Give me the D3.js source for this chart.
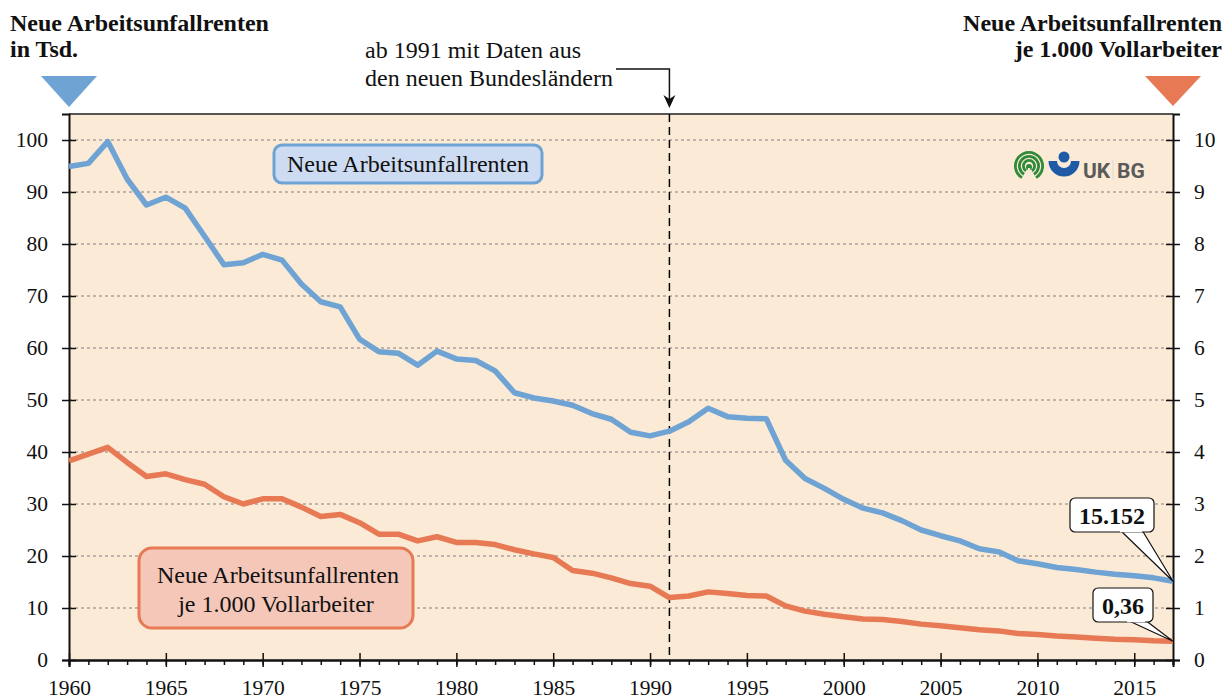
<!DOCTYPE html>
<html>
<head>
<meta charset="utf-8">
<script src="https://cdn.jsdelivr.net/npm/d3@7"></script>
<style>
  body { margin: 0; background: #fff; }
  svg { display: block; font-family: "Liberation Serif", "Times New Roman", serif; }
</style>
</head>
<body>
<svg id="chart"></svg>
<script>
// years 1960..2017
const years = d3.range(1960, 2018);

// neue Arbeitsunfallrenten in Tsd.
const renten = [
  94.9, 95.5, 99.7, 92.5, 87.5, 89.0, 86.9, 81.5, 76.0, 76.4,
  78.0, 76.9, 72.3, 68.9, 67.9, 61.7, 59.3, 59.0, 56.7, 59.4,
  57.9, 57.6, 55.6, 51.4, 50.4, 49.8, 49.0, 47.4, 46.3, 43.8,
  43.1, 44.0, 45.8, 48.4, 46.8, 46.5, 46.4, 38.4, 34.9, 33.0,
  30.9, 29.2, 28.3, 26.8, 25.0, 23.9, 22.9, 21.4, 20.8, 19.1,
  18.5, 17.8, 17.4, 16.9, 16.5, 16.2, 15.8, 15.152
];

// neue Arbeitsunfallrenten je 1.000 Vollarbeiter
const quote = [
  3.83, 3.96, 4.09, 3.80, 3.53, 3.58, 3.47, 3.38, 3.14, 3.00,
  3.10, 3.10, 2.94, 2.76, 2.80, 2.64, 2.42, 2.42, 2.29, 2.37,
  2.26, 2.26, 2.22, 2.12, 2.04, 1.97, 1.72, 1.67, 1.58, 1.47,
  1.42, 1.20, 1.23, 1.31, 1.28, 1.24, 1.23, 1.04, 0.94, 0.88,
  0.83, 0.79, 0.78, 0.74, 0.69, 0.66, 0.62, 0.58, 0.56, 0.51,
  0.49, 0.46, 0.44, 0.42, 0.40, 0.39, 0.37, 0.36
];

const leftTicks = [0, 10, 20, 30, 40, 50, 60, 70, 80, 90, 100];
const rightTicks = [0, 1, 2, 3, 4, 5, 6, 7, 8, 9, 10];
const yearTicks = [1960, 1965, 1970, 1975, 1980, 1985, 1990, 1995, 2000, 2005, 2010, 2015];
const splitYear = 1991;
const endLabels = ["15.152", "0,36"];

const W = 1226, H = 699;
const m = { left: 69, right: 1173, top: 114, bottom: 660 };
const blue = "#6ea3d4", orange = "#e77a55";

const svg = d3.select("#chart").attr("width", W).attr("height", H);

const x = d3.scaleLinear().domain([1960, 2017]).range([m.left, m.right]);
const yL = d3.scaleLinear().domain([0, 105]).range([m.bottom, m.top]);
const yR = d3.scaleLinear().domain([0, 10.5]).range([m.bottom, m.top]);

// plot background
svg.append("rect")
  .attr("x", m.left).attr("y", m.top)
  .attr("width", m.right - m.left).attr("height", m.bottom - m.top)
  .attr("fill", "#fbead5");
svg.append("line")
  .attr("x1", m.left).attr("x2", m.right).attr("y1", m.top).attr("y2", m.top)
  .attr("stroke", "#555").attr("stroke-width", 2);

// grid
svg.append("g").selectAll("line").data(leftTicks.slice(1)).enter().append("line")
  .attr("x1", m.left).attr("x2", m.right)
  .attr("y1", d => yL(d)).attr("y2", d => yL(d))
  .attr("stroke", "#aaa39a").attr("stroke-width", 1.5).attr("stroke-dasharray", "3,3");

// vertical split line
svg.append("line")
  .attr("x1", x(splitYear)).attr("x2", x(splitYear))
  .attr("y1", m.top).attr("y2", m.bottom)
  .attr("stroke", "#000").attr("stroke-width", 1.5).attr("stroke-dasharray", "8,5");

// axes
const axL = d3.axisLeft(yL).tickValues(leftTicks).tickSize(7).tickPadding(14);
const gL = svg.append("g").attr("transform", `translate(${m.left},0)`).call(axL);
const axR = d3.axisRight(yR).tickValues(rightTicks).tickSize(7).tickPadding(14);
const gR = svg.append("g").attr("transform", `translate(${m.right},0)`).call(axR);
const axMinor = d3.axisBottom(x).tickValues(years).tickSize(5).tickFormat("");
svg.append("g").attr("transform", `translate(0,${m.bottom})`).call(axMinor);
const axB = d3.axisBottom(x).tickValues(yearTicks).tickSize(7).tickFormat(d3.format("d"));
const gB = svg.append("g").attr("transform", `translate(0,${m.bottom})`).call(axB);

svg.selectAll(".domain").attr("stroke", "#111").attr("stroke-width", 2);
svg.selectAll(".tick line").attr("stroke", "#111").attr("stroke-width", 1.5);
gL.selectAll(".tick line").attr("x1", 7);
gR.selectAll(".tick line").attr("x1", -7);
gB.selectAll(".tick line").attr("y1", -7);
svg.selectAll(".tick text")
  .attr("font-family", "Liberation Serif").attr("font-size", 21.5).attr("fill", "#111");
gB.selectAll(".tick text").attr("y", 35).attr("dy", 0);

// lines
const lineL = d3.line().x((d, i) => x(years[i])).y(d => yL(d));
const lineR = d3.line().x((d, i) => x(years[i])).y(d => yR(d));
svg.append("path").datum(quote).attr("d", lineR)
  .attr("fill", "none").attr("stroke", orange).attr("stroke-width", 5.5).attr("stroke-linejoin", "round");
svg.append("path").datum(renten).attr("d", lineL)
  .attr("fill", "none").attr("stroke", blue).attr("stroke-width", 5.5).attr("stroke-linejoin", "round");

// titles
const tl = svg.append("text").attr("font-weight", "bold").attr("font-size", 24).attr("fill", "#111");
tl.append("tspan").attr("x", 10).attr("y", 31).text("Neue Arbeitsunfallrenten");
tl.append("tspan").attr("x", 10).attr("y", 57).text("in Tsd.");
const tr = svg.append("text").attr("font-weight", "bold").attr("font-size", 24).attr("fill", "#111")
  .attr("text-anchor", "end");
tr.append("tspan").attr("x", 1222).attr("y", 31).text("Neue Arbeitsunfallrenten");
tr.append("tspan").attr("x", 1222).attr("y", 57).text("je 1.000 Vollarbeiter");

// triangles
svg.append("path")
  .attr("d", `M${m.left - 28},76 L${m.left + 28},76 L${m.left},107 Z`).attr("fill", blue);
svg.append("path")
  .attr("d", `M${m.right - 28},76 L${m.right + 28},76 L${m.right},106 Z`).attr("fill", orange);

// annotation
const an = svg.append("text").attr("font-size", 24).attr("fill", "#111").attr("text-anchor", "middle");
an.append("tspan").attr("x", 473).attr("y", 58).text("ab 1991 mit Daten aus");
an.append("tspan").attr("x", 489).attr("y", 86).text("den neuen Bundesländern");
svg.append("path")
  .attr("d", `M616,69 L${x(splitYear)},69 L${x(splitYear)},100`)
  .attr("fill", "none").attr("stroke", "#111").attr("stroke-width", 1.5);
svg.append("path")
  .attr("d", `M${x(splitYear) - 6},95 L${x(splitYear)},108 L${x(splitYear) + 6},95 L${x(splitYear)},99 Z`)
  .attr("fill", "#111");

// series callouts
svg.append("rect").attr("x", 274).attr("y", 145).attr("width", 268).attr("height", 38).attr("rx", 8)
  .attr("fill", "#cddcf2").attr("stroke", blue).attr("stroke-width", 3);
svg.append("text").attr("x", 408).attr("y", 172).attr("text-anchor", "middle")
  .attr("font-size", 24).attr("fill", "#111").text("Neue Arbeitsunfallrenten");

svg.append("rect").attr("x", 139).attr("y", 548).attr("width", 274).attr("height", 80).attr("rx", 13)
  .attr("fill", "#f5c7b9").attr("stroke", orange).attr("stroke-width", 3);
const ot = svg.append("text").attr("font-size", 24).attr("fill", "#111").attr("text-anchor", "middle");
ot.append("tspan").attr("x", 278).attr("y", 583).text("Neue Arbeitsunfallrenten");
ot.append("tspan").attr("x", 276).attr("y", 612).text("je 1.000 Vollarbeiter");

// end value callouts
function callout(bx, by, bw, bh, p1, p2, tx, ty, label) {
  const g = svg.append("g");
  g.append("path")
    .attr("d", `M${p1},${by + bh - 2} L${tx},${ty} L${p2},${by + bh - 2}`)
    .attr("fill", "#fff").attr("stroke", "#111").attr("stroke-width", 1.2);
  g.append("rect").attr("x", bx).attr("y", by).attr("width", bw).attr("height", bh).attr("rx", 5)
    .attr("fill", "#fff").attr("stroke", "#111").attr("stroke-width", 1.2);
  g.append("path")
    .attr("d", `M${p1},${by + bh - 1} L${p2},${by + bh - 1}`)
    .attr("stroke", "#fff").attr("stroke-width", 2.5);
  g.append("text").attr("x", bx + bw / 2).attr("y", by + bh / 2 + 8.5).attr("text-anchor", "middle")
    .attr("font-size", 24).attr("font-weight", "bold").attr("fill", "#111").text(label);
}
callout(1070, 498, 84, 34, 1120, 1142, x(2017), yL(renten[renten.length - 1]), endLabels[0]);
callout(1093, 588, 60, 34, 1127, 1145, x(2017), yR(quote[quote.length - 1]), endLabels[1]);

// logo
const logo = svg.append("g");
const arc = d3.arc();
[15, 11, 7].forEach(r => {
  logo.append("path")
    .attr("transform", "translate(1029,166)")
    .attr("d", arc({ innerRadius: r - 2.8, outerRadius: r, startAngle: -2.6, endAngle: 2.6 }))
    .attr("fill", "#2f8a3a");
});
logo.append("circle").attr("cx", 1029).attr("cy", 167).attr("r", 3).attr("fill", "#2f8a3a");
logo.append("line").attr("x1", 1029).attr("x2", 1029).attr("y1", 168).attr("y2", 182)
  .attr("stroke", "#fbead5").attr("stroke-width", 2);
logo.append("circle").attr("cx", 1064).attr("cy", 157).attr("r", 5.5).attr("fill", "#1f5aa6");
logo.append("path")
  .attr("transform", "translate(1064,161)")
  .attr("d", arc({ innerRadius: 7, outerRadius: 15.5, startAngle: Math.PI / 2, endAngle: Math.PI * 1.5 }))
  .attr("fill", "#1f5aa6");
logo.append("text").attr("x", 1083).attr("y", 178).attr("font-family", "Roboto")
  .attr("font-weight", "bold").attr("font-size", 21).attr("fill", "#5a5a5a").text("UK");
logo.append("line").attr("x1", 1113).attr("x2", 1113).attr("y1", 160).attr("y2", 180)
  .attr("stroke", "#ddd").attr("stroke-width", 1);
logo.append("text").attr("x", 1117).attr("y", 178).attr("font-family", "Roboto")
  .attr("font-weight", "bold").attr("font-size", 21).attr("fill", "#5a5a5a").text("BG");
</script>
</body>
</html>
